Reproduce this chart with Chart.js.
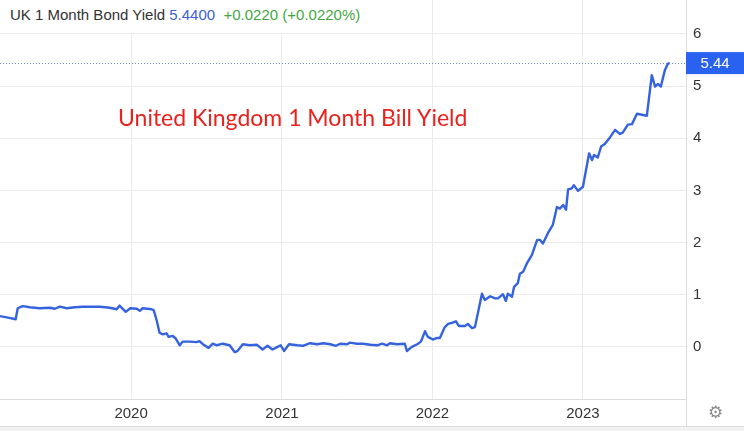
<!DOCTYPE html>
<html>
<head>
<meta charset="utf-8">
<script src="https://cdn.jsdelivr.net/npm/chart.js@4.4.1/dist/chart.umd.min.js"></script>
<style>
    html, body { margin: 0; padding: 0; background: #fff; }
    #wrap { position: relative; width: 744px; height: 431px; overflow: hidden; }
    #chartBox { position: absolute; left: 0; top: 0; width: 744px; height: 426px; }
    #bottomBar { position: absolute; left: 0; top: 426px; width: 744px; height: 5px; background: #f2f2f2; border-top: 1px solid #dedede; }
    #header { position: absolute; left: 0; top: 0; width: 366px; height: 33px; background: #fff;
              font: 15px "Liberation Sans", Arial, sans-serif; color: #333; }
    #header span.txt { position: absolute; left: 10px; top: 6px; white-space: nowrap; }
    .price { color: #3e5fd6; }
    .chg { color: #43a843; }
    #bigTitle { position: absolute; left: 118px; top: 104px; font: 23px Lato, "Open Sans", sans-serif;
                color: #e8231d; white-space: nowrap; line-height: 26px; }
    #gear { position: absolute; left: 708px; top: 402px; font: 17px "DejaVu Sans", sans-serif; color: #8a8a8a; }
</style>
</head>
<body>
<div id="wrap">
    <div id="chartBox"><canvas id="yieldChart"></canvas></div>
    <div id="header"><span class="txt">UK 1 Month Bond Yield <span class="price">5.4400</span>&nbsp; <span class="chg">+0.0220 (+0.0220%)</span></span></div>
    <div id="bigTitle">United Kingdom 1 Month Bill Yield</div>
    <div id="gear">⚙</div>
    <div id="bottomBar"></div>
</div>
<script>
// observation dates and yields (%)
const dates = [
    '2019-02-17','2019-03-08','2019-03-27','2019-04-01','2019-04-13','2019-04-30','2019-05-24','2019-06-18','2019-06-30','2019-07-12',
    '2019-07-29','2019-08-17','2019-09-06','2019-09-27','2019-10-17','2019-11-10','2019-11-27','2019-12-04','2019-12-19','2019-12-30',
    '2020-01-15','2020-01-22','2020-01-29','2020-02-20','2020-02-25','2020-03-03','2020-03-10','2020-03-18','2020-03-27','2020-04-01',
    '2020-04-11','2020-04-18','2020-04-28','2020-05-05','2020-05-22','2020-06-08','2020-06-15','2020-06-23','2020-07-07','2020-07-17',
    '2020-07-27','2020-08-10','2020-08-27','2020-09-08','2020-09-15','2020-09-28','2020-10-15','2020-11-01','2020-11-15','2020-11-27',
    '2020-12-09','2020-12-19','2020-12-29',
    '2021-01-06','2021-01-18','2021-02-07','2021-02-21','2021-03-10','2021-03-27','2021-04-11','2021-04-28','2021-05-12','2021-05-22',
    '2021-06-08','2021-06-15','2021-07-02','2021-07-17','2021-08-03','2021-08-20','2021-09-01','2021-09-13','2021-09-20','2021-10-07',
    '2021-10-26','2021-10-31','2021-11-12','2021-11-25','2021-12-04','2021-12-14','2021-12-21',
    '2022-01-02','2022-01-12','2022-01-19','2022-01-31','2022-02-08','2022-02-17','2022-02-27','2022-03-06','2022-03-21','2022-03-28',
    '2022-04-07','2022-04-14','2022-04-21','2022-05-01','2022-05-08','2022-05-21','2022-06-02','2022-06-09','2022-06-21','2022-06-28',
    '2022-07-03','2022-07-13','2022-07-18','2022-07-27','2022-08-01','2022-08-09','2022-08-18','2022-08-30','2022-09-12','2022-09-19',
    '2022-09-26','2022-10-08','2022-10-20','2022-10-30','2022-11-06','2022-11-14','2022-11-21','2022-11-26','2022-12-05','2022-12-10',
    '2022-12-20',
    '2023-01-01','2023-01-16','2023-01-23','2023-01-28','2023-02-06','2023-02-14','2023-02-23','2023-03-08','2023-03-20','2023-04-01',
    '2023-04-08','2023-04-20','2023-04-30','2023-05-12','2023-05-24','2023-06-05','2023-06-17','2023-06-25','2023-07-02','2023-07-09',
    '2023-07-19','2023-07-26','2023-07-31'
];
const yields = [
    0.59, 0.56, 0.53, 0.74, 0.78, 0.76, 0.74, 0.75, 0.73, 0.77,
    0.74, 0.76, 0.77, 0.77, 0.77, 0.75, 0.72, 0.79, 0.67, 0.74,
    0.73, 0.69, 0.74, 0.72, 0.70, 0.51, 0.27, 0.24, 0.26, 0.19,
    0.21, 0.16, 0.03, 0.10, 0.10, 0.09, 0.11, 0.05, -0.02, 0.06,
    0.03, 0.06, 0.03, -0.10, -0.08, 0.05, 0.03, 0.04, -0.05, 0.02,
    -0.05, -0.01, 0.03,
    -0.08, 0.05, 0.03, 0.02, 0.07, 0.05, 0.07, 0.05, 0.02, 0.06,
    0.05, 0.08, 0.06, 0.06, 0.04, 0.03, 0.06, 0.03, 0.07, 0.05,
    0.06, -0.08, 0.00, 0.05, 0.10, 0.30, 0.19,
    0.14, 0.17, 0.17, 0.38, 0.44, 0.46, 0.49, 0.40, 0.40, 0.44,
    0.36, 0.38, 0.64, 1.02, 0.90, 0.97, 0.93, 0.93, 1.01, 0.88,
    1.02, 0.96, 1.15, 1.22, 1.40, 1.44, 1.60, 1.76, 2.05, 2.05,
    1.98, 2.18, 2.34, 2.68, 2.65, 2.72, 2.63, 3.02, 3.04, 3.10,
    2.99,
    3.07, 3.71, 3.58, 3.68, 3.63, 3.84, 3.89, 4.02, 4.16, 4.08,
    4.11, 4.26, 4.27, 4.47, 4.45, 4.43, 5.21, 4.99, 5.04, 4.99,
    5.31, 5.43, 5.44
];
const yearLabels = ['2020', '2021', '2022', '2023'];
const yTicks = [0, 1, 2, 3, 4, 5, 6];
const lastPrice = 5.44;

const X_MIN = Date.UTC(2019, 1, 17);
const X_MAX = Date.UTC(2023, 8, 8);
const FONT = '"Liberation Sans", Arial, sans-serif';

function toTime(s) {
    const p = s.split('-');
    return Date.UTC(+p[0], +p[1] - 1, +p[2]);
}

const points = dates.map((d, i) => ({ x: toTime(d), y: yields[i] }));

// dotted last-price line, value tag and right separator
const priceTag = {
    id: 'priceTag',
    afterDatasetsDraw(chart) {
        const c = chart.ctx;
        const area = chart.chartArea;
        const y = chart.scales.y.getPixelForValue(lastPrice);
        c.save();
        c.strokeStyle = '#6f86c9';
        c.lineWidth = 1;
        c.setLineDash([1, 2]);
        c.beginPath();
        c.moveTo(area.left, Math.round(y) + 0.5);
        c.lineTo(area.right, Math.round(y) + 0.5);
        c.stroke();
        c.setLineDash([]);
        // separator running down through the x axis
        c.strokeStyle = '#dcdcdc';
        c.beginPath();
        c.moveTo(area.right + 0.5, 0);
        c.lineTo(area.right + 0.5, chart.height);
        c.stroke();
        // tag
        c.fillStyle = '#2962f0';
        c.fillRect(area.right, y - 11, chart.width - area.right, 22);
        c.fillStyle = '#fff';
        c.font = '15px ' + FONT;
        c.textAlign = 'center';
        c.textBaseline = 'middle';
        c.fillText(lastPrice.toFixed(2), area.right + (chart.width - area.right) / 2, y + 1);
        c.restore();
    }
};

new Chart(document.getElementById('yieldChart'), {
    type: 'line',
    data: {
        datasets: [{
            data: points,
            borderColor: '#3563e0',
            borderWidth: 2.4,
            pointRadius: 0,
            tension: 0,
            fill: false,
            borderJoinStyle: 'round'
        }]
    },
    options: {
        responsive: true,
        maintainAspectRatio: false,
        animation: false,
        layout: { padding: 0 },
        plugins: { legend: { display: false }, tooltip: { enabled: false } },
        scales: {
            x: {
                type: 'linear',
                min: X_MIN,
                max: X_MAX,
                afterBuildTicks(scale) {
                    scale.ticks = yearLabels.map(y => ({ value: Date.UTC(+y, 0, 1) }));
                },
                afterFit(scale) {
                    scale.height = 27;
                    scale.paddingLeft = 0;
                    scale.paddingRight = 0;
                },
                grid: { color: '#ebebeb', drawTicks: false },
                border: { color: '#dcdcdc' },
                ticks: {
                    autoSkip: false,
                    maxRotation: 0,
                    padding: 6,
                    color: '#333',
                    font: { family: FONT, size: 15 },
                    callback: v => String(new Date(v).getUTCFullYear())
                }
            },
            y: {
                position: 'right',
                min: -1,
                max: 6.65,
                afterBuildTicks(scale) {
                    scale.ticks = yTicks.map(v => ({ value: v }));
                },
                afterFit(scale) {
                    scale.width = 58;
                    scale.paddingTop = 0;
                    scale.paddingBottom = 0;
                },
                grid: { color: '#ebebeb', drawTicks: false },
                border: { color: '#dcdcdc' },
                ticks: {
                    padding: 7,
                    color: '#333',
                    font: { family: FONT, size: 15 },
                    callback: v => String(v)
                }
            }
        }
    },
    plugins: [priceTag]
});
</script>
</body>
</html>
